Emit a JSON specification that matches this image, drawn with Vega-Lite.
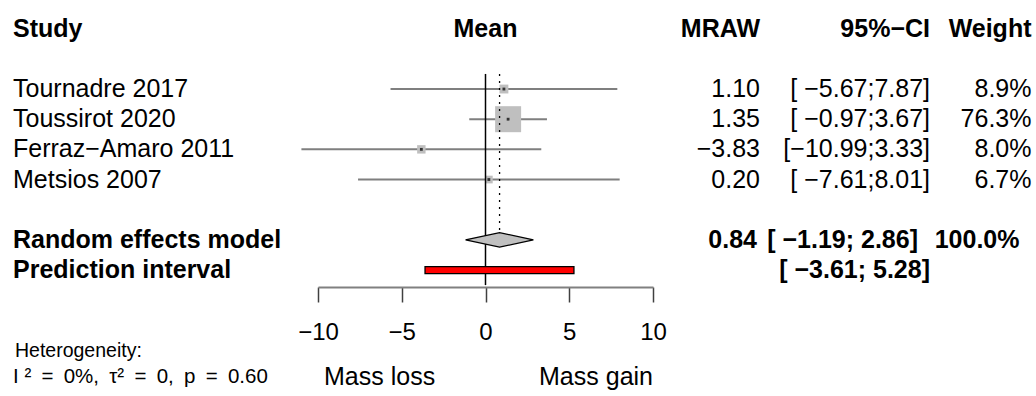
{
  "$schema": "https://vega.github.io/schema/vega-lite/v6.json",
  "width": 1036,
  "height": 396,
  "autosize": "none",
  "padding": 0,
  "background": "white",
  "config": {
    "view": {"stroke": null},
    "text": {"font": "Liberation Sans", "fontSize": 25, "color": "black", "baseline": "middle"}
  },
  "datasets": {
    "studies": [
      {"row": 3, "study": "Tournadre 2017", "mean": 1.10, "lower": -5.67, "upper": 7.87, "weight": 8.9},
      {"row": 4, "study": "Toussirot 2020", "mean": 1.35, "lower": -0.97, "upper": 3.67, "weight": 76.3},
      {"row": 5, "study": "Ferraz−Amaro 2011", "mean": -3.83, "lower": -10.99, "upper": 3.33, "weight": 8.0},
      {"row": 6, "study": "Metsios 2007", "mean": 0.20, "lower": -7.61, "upper": 8.01, "weight": 6.7}
    ],
    "summary": [{"row": 8, "est": 0.84, "lower": -1.19, "upper": 2.86}],
    "diamond": [
      {"x": -1.19, "top": 8, "bot": 8},
      {"x": 0.84, "top": 7.76, "bot": 8.24},
      {"x": 2.86, "top": 8, "bot": 8}
    ],
    "pi": [{"row": 9, "lower": -3.61, "upper": 5.28}],
    "ref": [{"ref": 0}],
    "cells": [
      {"row": 1, "col": 0, "text": "Study", "bold": true},
      {"row": 1, "col": 1, "text": "Mean", "bold": true},
      {"row": 1, "col": 2, "text": "MRAW", "bold": true},
      {"row": 1, "col": 3, "text": "95%−CI", "bold": true},
      {"row": 1, "col": 4, "text": "Weight", "bold": true},
      {"row": 3, "col": 0, "text": "Tournadre 2017", "bold": false},
      {"row": 3, "col": 2, "text": "1.10", "bold": false},
      {"row": 3, "col": 3, "text": "[ −5.67;7.87]", "bold": false},
      {"row": 3, "col": 4, "text": "8.9%", "bold": false},
      {"row": 4, "col": 0, "text": "Toussirot 2020", "bold": false},
      {"row": 4, "col": 2, "text": "1.35", "bold": false},
      {"row": 4, "col": 3, "text": "[ −0.97;3.67]", "bold": false},
      {"row": 4, "col": 4, "text": "76.3%", "bold": false},
      {"row": 5, "col": 0, "text": "Ferraz−Amaro 2011", "bold": false},
      {"row": 5, "col": 2, "text": "−3.83", "bold": false},
      {"row": 5, "col": 3, "text": "[−10.99;3.33]", "bold": false},
      {"row": 5, "col": 4, "text": "8.0%", "bold": false},
      {"row": 6, "col": 0, "text": "Metsios 2007", "bold": false},
      {"row": 6, "col": 2, "text": "0.20", "bold": false},
      {"row": 6, "col": 3, "text": "[ −7.61;8.01]", "bold": false},
      {"row": 6, "col": 4, "text": "6.7%", "bold": false},
      {"row": 8, "col": 0, "text": "Random effects model", "bold": true},
      {"row": 8, "col": 2, "text": "0.84", "bold": true},
      {"row": 8, "col": 3, "text": "[ −1.19; 2.86]", "bold": true},
      {"row": 8, "col": 4, "text": "100.0%", "bold": true},
      {"row": 9, "col": 0, "text": "Prediction interval", "bold": true},
      {"row": 9, "col": 3, "text": "[ −3.61; 5.28]", "bold": true}
    ]
  },
  "resolve": {"scale": {"x": "independent"}},
  "layer": [
    {
      "layer": [
        {
          "data": {"name": "studies"},
          "mark": {"type": "rule", "color": "#7f7f7f", "strokeWidth": 2},
          "encoding": {
            "x": {"field": "lower", "type": "quantitative",
                  "scale": {"domain": [-10, 10], "range": [318, 653], "zero": false, "nice": false},
                  "axis": {"values": [-10, -5, 0, 5, 10], "orient": "bottom", "offset": -109, "title": null, "grid": false,
                           "domainColor": "#808080", "domainWidth": 2, "tickColor": "#404040", "tickWidth": 1.5, "tickSize": 15,
                           "labelFontSize": 24, "labelFont": "Liberation Sans", "labelColor": "black", "labelPadding": 18,
                           "labelFlush": false, "labelOverlap": false}},
            "x2": {"field": "upper"},
            "y": {"field": "row", "type": "quantitative", "scale": {"domain": [1, 13], "range": [23.7, 395.7], "zero": false, "nice": false}, "axis": null}
          }
        },
        {
          "data": {"name": "studies"},
          "mark": {"type": "point", "shape": "square", "filled": true, "color": "#bfbfbf", "opacity": 1},
          "encoding": {
            "x": {"field": "mean", "type": "quantitative"},
            "y": {"field": "row", "type": "quantitative"},
            "size": {"field": "weight", "type": "quantitative", "scale": {"domain": [0, 76.3], "range": [0, 676]}, "legend": null}
          }
        },
        {
          "data": {"name": "studies"},
          "mark": {"type": "point", "shape": "square", "filled": true, "color": "#333333", "opacity": 1, "size": 8},
          "encoding": {
            "x": {"field": "mean", "type": "quantitative"},
            "y": {"field": "row", "type": "quantitative"}
          }
        },
        {
          "data": {"name": "ref"},
          "mark": {"type": "rule", "color": "black", "strokeWidth": 1.5},
          "encoding": {
            "x": {"field": "ref", "type": "quantitative"},
            "y": {"datum": 2.5, "type": "quantitative"},
            "y2": {"datum": 9.5}
          }
        },
        {
          "data": {"name": "summary"},
          "mark": {"type": "rule", "color": "black", "strokeWidth": 1.3, "strokeDash": [2, 5]},
          "encoding": {
            "x": {"field": "est", "type": "quantitative"},
            "y": {"datum": 2.5, "type": "quantitative"},
            "y2": {"datum": 7.76}
          }
        },
        {
          "data": {"name": "diamond"},
          "mark": {"type": "area", "fill": "#c0c0c0", "stroke": "black", "strokeWidth": 1.2, "opacity": 1},
          "encoding": {
            "x": {"field": "x", "type": "quantitative"},
            "y": {"field": "top", "type": "quantitative"},
            "y2": {"field": "bot"}
          }
        },
        {
          "data": {"name": "pi"},
          "mark": {"type": "bar", "fill": "#ff0000", "stroke": "black", "strokeWidth": 1.3, "size": 7, "opacity": 1},
          "encoding": {
            "x": {"field": "lower", "type": "quantitative"},
            "x2": {"field": "upper"},
            "y": {"field": "row", "type": "quantitative"}
          }
        },
        {
          "data": {"values": [{"label": "Mass loss", "at": -10}]},
          "mark": {"type": "text", "align": "left", "dx": 6},
          "encoding": {
            "x": {"field": "at", "type": "quantitative"},
            "y": {"datum": 12.55, "type": "quantitative"},
            "text": {"field": "label"}
          }
        },
        {
          "data": {"values": [{"label": "Mass gain", "at": 10}]},
          "mark": {"type": "text", "align": "right"},
          "encoding": {
            "x": {"field": "at", "type": "quantitative"},
            "y": {"datum": 12.55, "type": "quantitative"},
            "text": {"field": "label"}
          }
        }
      ]
    },
    {
      "data": {"name": "cells"},
      "encoding": {
        "x": {"field": "col", "type": "quantitative",
              "scale": {"domain": [0, 1, 2, 3, 4], "range": [13, 485.5, 760, 930, 1031.5], "zero": false, "nice": false},
              "axis": null},
        "text": {"field": "text"}
      },
      "layer": [
        {"transform": [{"filter": "datum.col == 0 && !datum.bold"}], "mark": {"type": "text", "align": "left"},
         "encoding": {"y": {"field": "row", "type": "quantitative"}}},
        {"transform": [{"filter": "datum.col == 0 && datum.bold"}], "mark": {"type": "text", "align": "left", "fontWeight": "bold"},
         "encoding": {"y": {"field": "row", "type": "quantitative"}}},
        {"transform": [{"filter": "datum.col == 1"}], "mark": {"type": "text", "align": "center", "fontWeight": "bold"},
         "encoding": {"y": {"field": "row", "type": "quantitative"}}},
        {"transform": [{"filter": "datum.col >= 2 && !datum.bold"}], "mark": {"type": "text", "align": "right"},
         "encoding": {"y": {"field": "row", "type": "quantitative"}}},
        {"transform": [{"filter": "datum.col >= 2 && datum.bold && datum.row != 8"}], "mark": {"type": "text", "align": "right", "fontWeight": "bold"},
         "encoding": {"y": {"field": "row", "type": "quantitative"}}},
        {"transform": [{"filter": "datum.col == 2 && datum.row == 8"}], "mark": {"type": "text", "align": "right", "fontWeight": "bold", "dx": -3},
         "encoding": {"y": {"field": "row", "type": "quantitative"}}},
        {"transform": [{"filter": "datum.col >= 3 && datum.row == 8"}], "mark": {"type": "text", "align": "right", "fontWeight": "bold", "dx": -12},
         "encoding": {"y": {"field": "row", "type": "quantitative"}}},
        {
          "data": {"values": [{"col": 0, "text": "Heterogeneity:"}]},
          "mark": {"type": "text", "align": "left", "dx": 2, "fontSize": 19.5},
          "encoding": {"y": {"datum": 11.7, "type": "quantitative"}}
        },
        {
          "data": {"values": [{"col": 0, "text": "I \u00b2\u2002=\u20020%,\u2002\u03c4\u00b2\u2002=\u20020,\u2002p\u2002=\u20020.60"}]},
          "mark": {"type": "text", "align": "left", "fontSize": 20.5},
          "encoding": {"y": {"datum": 12.55, "type": "quantitative"}}
        }
      ]
    }
  ]
}
